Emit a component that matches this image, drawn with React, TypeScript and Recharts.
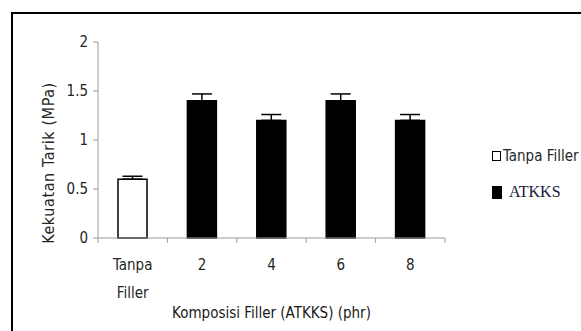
import React from "react";
import { BarChart, Bar, Cell, XAxis, YAxis, ErrorBar } from "recharts";

const categories = ["Tanpa Filler", "2", "4", "6", "8"];
const groups = ["Tanpa Filler", "ATKKS", "ATKKS", "ATKKS", "ATKKS"];
const strength = [0.6, 1.4, 1.2, 1.4, 1.2];
const errUp = [0.03, 0.07, 0.06, 0.07, 0.06];
const yTicks = [0, 0.5, 1, 1.5, 2];
const seriesNames = ["Tanpa Filler", "ATKKS"];

const data = categories.map((c, i) => ({
  name: c,
  group: groups[i],
  value: strength[i],
  err: [0, errUp[i]],
}));

const W = 581;
const H = 331;
const margin = { top: 42, right: 136, bottom: 33, left: 58 };
const yAxisW = 40;
const axisFont = "'DejaVu Sans Condensed', 'Liberation Sans Narrow', 'DejaVu Sans', sans-serif";
const halfBand = (W - margin.left - yAxisW - margin.right) / categories.length / 2;

const XTick = (props: any) => {
  const { x, y, payload, index } = props;
  const lines = String(payload.value).split(" ");
  return (
    <g>
      <line x1={x - halfBand} x2={x - halfBand} y1={y} y2={y + 5} stroke="#9a9a9a" />
      {index === categories.length - 1 && (
        <line x1={x + halfBand} x2={x + halfBand} y1={y} y2={y + 5} stroke="#9a9a9a" />
      )}
      {lines.map((l, i) => (
        <text key={i} x={x} y={y + 32 + i * 28} textAnchor="middle" fontSize={15} fontFamily={axisFont} fill="#262626">
          {l}
        </text>
      ))}
    </g>
  );
};

// legend drawn beside the plot, like the Excel original
const LegendBox = () => (
  <div style={{ position: "absolute", left: 492, top: 147, width: 100 }}>
    {seriesNames.map((s, i) => (
      <div key={s} style={{ display: "flex", alignItems: "center", height: 18, marginBottom: 18, whiteSpace: "nowrap" }}>
        <span
          style={{
            display: "inline-block",
            width: i === 0 ? 7 : 8,
            height: i === 0 ? 8 : 11,
            border: "1px solid #000",
            background: i === 0 ? "#fff" : "#000",
            marginRight: i === 0 ? 2 : 7,
          }}
        />
        <span
          style={{
            fontFamily: i === 0 ? axisFont : "'Liberation Serif', 'Times New Roman', serif",
            fontSize: i === 0 ? 15 : 16,
            color: i === 0 ? "#262626" : "#1a1a3a",
          }}
        >
          {s}
        </span>
      </div>
    ))}
  </div>
);

export default function App() {
  return (
    <div style={{ position: "fixed", left: 0, top: 0, width: W, height: H, overflow: "hidden", background: "#fff" }}>
      <div
        style={{
          position: "absolute",
          left: 11,
          top: 12,
          width: W - 11,
          height: H - 12,
          borderTop: "2px solid #000",
          borderLeft: "2px solid #000",
          boxSizing: "border-box",
        }}
      />
      <BarChart width={W} height={H} data={data} margin={margin} barSize={29} style={{ position: "absolute", left: 0, top: 0 }}>
        <XAxis
          dataKey="name"
          height={60}
          interval={0}
          tickLine={false}
          tickSize={0}
          tickMargin={0}
          tick={<XTick />}
          axisLine={{ stroke: "#9a9a9a" }}
          label={{
            content: () => (
              <text x={271.5} y={318} textAnchor="middle" fontSize={15} fontFamily={axisFont} fill="#1a1a1a">
                Komposisi Filler (ATKKS) (phr)
              </text>
            ),
          }}
        />
        <YAxis
          width={yAxisW}
          domain={[0, 2]}
          ticks={yTicks}
          interval={0}
          tickSize={5}
          tickMargin={5}
          tick={{ fontSize: 15, fontFamily: axisFont, fill: "#262626" }}
          tickLine={{ stroke: "#9a9a9a" }}
          axisLine={{ stroke: "#9a9a9a" }}
          label={{
            content: () => (
              <text
                x={48}
                y={163}
                transform="rotate(-90 48 163)"
                textAnchor="middle"
                dominantBaseline="central"
                fontSize={16}
                letterSpacing={0.6}
                fontFamily={axisFont}
                fill="#262626"
              >
                Kekuatan Tarik (MPa)
              </text>
            ),
          }}
        />
        <Bar dataKey="value" isAnimationActive={false} stroke="#000" strokeWidth={1.5}>
          {data.map((d, i) => (
            <Cell key={i} fill={d.group === "ATKKS" ? "#000" : "#fff"} />
          ))}
          <ErrorBar dataKey="err" width={10} stroke="#000" strokeWidth={1.5} direction="y" />
        </Bar>
      </BarChart>
      <LegendBox />
    </div>
  );
}
